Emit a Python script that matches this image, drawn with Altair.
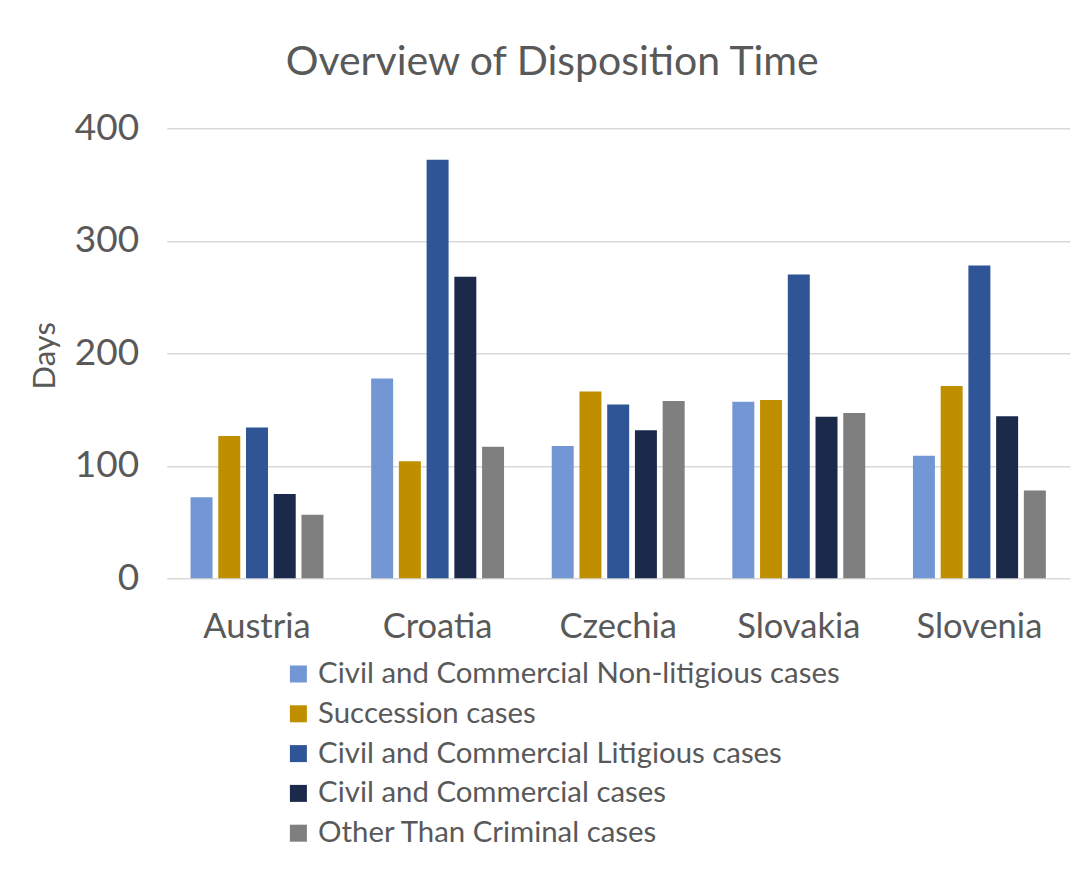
import altair as alt
import pandas as pd

countries = ["Austria", "Croatia", "Czechia", "Slovakia", "Slovenia"]
series = [
    "Civil and Commercial Non-litigious cases",
    "Succession cases",
    "Civil and Commercial Litigious cases",
    "Civil and Commercial cases",
    "Other Than Criminal cases",
]
non_litigious = [72, 177.5, 117.5, 157, 109]
succession = [126.5, 104, 166, 158.5, 171]
litigious = [134, 372, 154.5, 270, 278]
civil_commercial = [75, 268, 131.5, 143.5, 144]
other_than_criminal = [56.5, 117, 157.5, 147, 78]
colors = ["#7396D4", "#BF8F00", "#2F5597", "#1B2A4B", "#7F7F7F"]

values = [non_litigious, succession, litigious, civil_commercial, other_than_criminal]
rows = []
for s, vals in zip(series, values):
    for c, v in zip(countries, vals):
        rows.append({"Country": c, "Series": s, "Days": v})
df = pd.DataFrame(rows)

FONT = "Lato"
TXT = "#595959"

chart = alt.Chart(df).mark_bar().encode(
    x=alt.X("Country:N", sort=countries,
            scale=alt.Scale(paddingInner=0.264, paddingOuter=0.132),
            axis=alt.Axis(title=None, labelAngle=0, labelFontSize=34.5, labelFont=FONT,
                          labelColor=TXT, labelPadding=32, labelBaseline="top",
                          ticks=False, domain=False, grid=False)),
    xOffset=alt.XOffset("Series:N", sort=series,
                        scale=alt.Scale(paddingInner=0.207, paddingOuter=0)),
    y=alt.Y("Days:Q", scale=alt.Scale(domain=[0, 400], nice=False),
            axis=alt.Axis(title="Days", values=[0, 100, 200, 300, 400],
                          labelFontSize=37, labelFont=FONT, labelColor=TXT,
                          labelPadding=28, ticks=False, domain=False,
                          grid=True, gridColor="#D9D9D9", gridWidth=1.5,
                          titleFontSize=31, titleFont=FONT, titleColor=TXT,
                          titleFontWeight="normal", titleX=-121, titleY=227,
                          titleAngle=270, titleBaseline="middle", titleAlign="center")),
    color=alt.Color("Series:N", sort=series,
                    scale=alt.Scale(domain=series, range=colors),
                    legend=alt.Legend(title=None, orient="none", legendX=117, legendY=531,
                                      direction="vertical", columns=1,
                                      symbolType="square", symbolSize=289,
                                      symbolStrokeWidth=0, labelFontSize=29.4,
                                      labelFont=FONT, labelColor=TXT,
                                      labelOffset=5, rowPadding=8.8, padding=0,
                                      labelLimit=800)),
).properties(
    width=903, height=450,
    autosize="none",
    padding={"left": 158.7, "top": 120.3, "right": 10, "bottom": 285},
    title=alt.TitleParams("Overview of Disposition Time", fontSize=41, font=FONT,
                          color=TXT, fontWeight="normal", anchor="middle",
                          dx=-66, dy=12, offset=5, baseline="alphabetic"),
).configure_view(stroke=None)

chart.save("out.html", embed_options={"renderer": "svg", "actions": False})
